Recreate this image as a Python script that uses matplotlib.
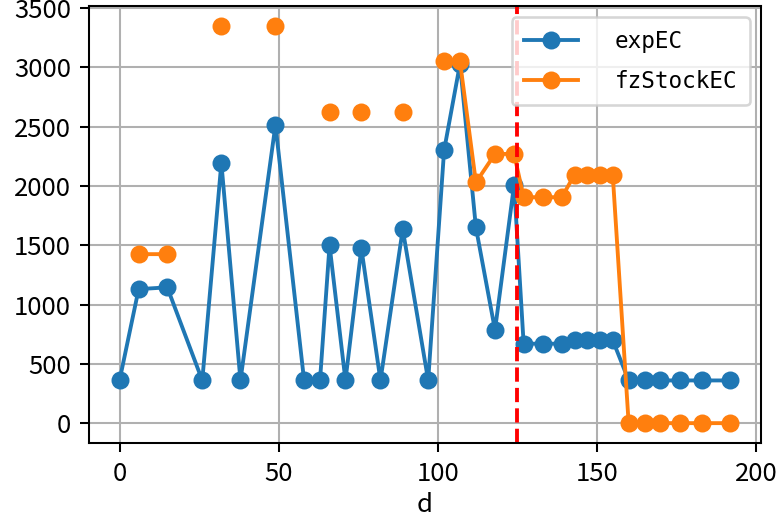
import numpy as np
import matplotlib
matplotlib.use("Agg")
import matplotlib.pyplot as plt

plt.rcParams['font.family'] = ['Noto Sans CJK SC', 'DejaVu Sans']
plt.rcParams['axes.unicode_minus'] = False

nan = np.nan
d = [0, 6, 15, 26, 32, 38, 49, 58, 63, 66, 71, 76, 82, 89, 97, 102, 107, 112,
     118, 124, 127, 133, 139, 143, 147, 151, 155, 160, 165, 170, 176, 183, 192]
expEC = [360, 1130, 1145, 360, 2195, 360, 2515, 360, 360, 1500, 360, 1475, 360,
         1635, 360, 2300, 3030, 1650, 785, 2010, 670, 670, 670, 700, 700, 700,
         700, 360, 360, 360, 360, 360, 360]
fzStockEC = [nan, 1425, 1425, nan, 3350, nan, 3350, nan, nan, 2620, nan, 2620,
             nan, 2620, nan, 3050, 3050, 2030, 2270, 2270, 1905, 1905, 1905,
             2095, 2095, 2095, 2095, 0, 0, 0, 0, 0, 0]
split_d = 125

fig = plt.figure(figsize=(778 / 185, 514 / 185), dpi=185)
ax = fig.add_axes([89 / 778, 1 - 443 / 514, (761 - 89) / 778, (443 - 6) / 514])

ax.plot(d, expEC, 'o-', label='expEC')
ax.plot(d, fzStockEC, 'o-', label='fzStockEC')
ax.axvline(split_d, color='red', linestyle='--', linewidth=1.5)

ax.set_xlabel('d', labelpad=2)
ax.grid(True)
ax.legend(loc='upper right', handletextpad=1.6, handlelength=2.4,
          labelspacing=0.75, borderpad=0.55,
          prop={'family': 'DejaVu Sans Mono', 'size': 8.8})

fig.savefig('out.png', dpi=185)
